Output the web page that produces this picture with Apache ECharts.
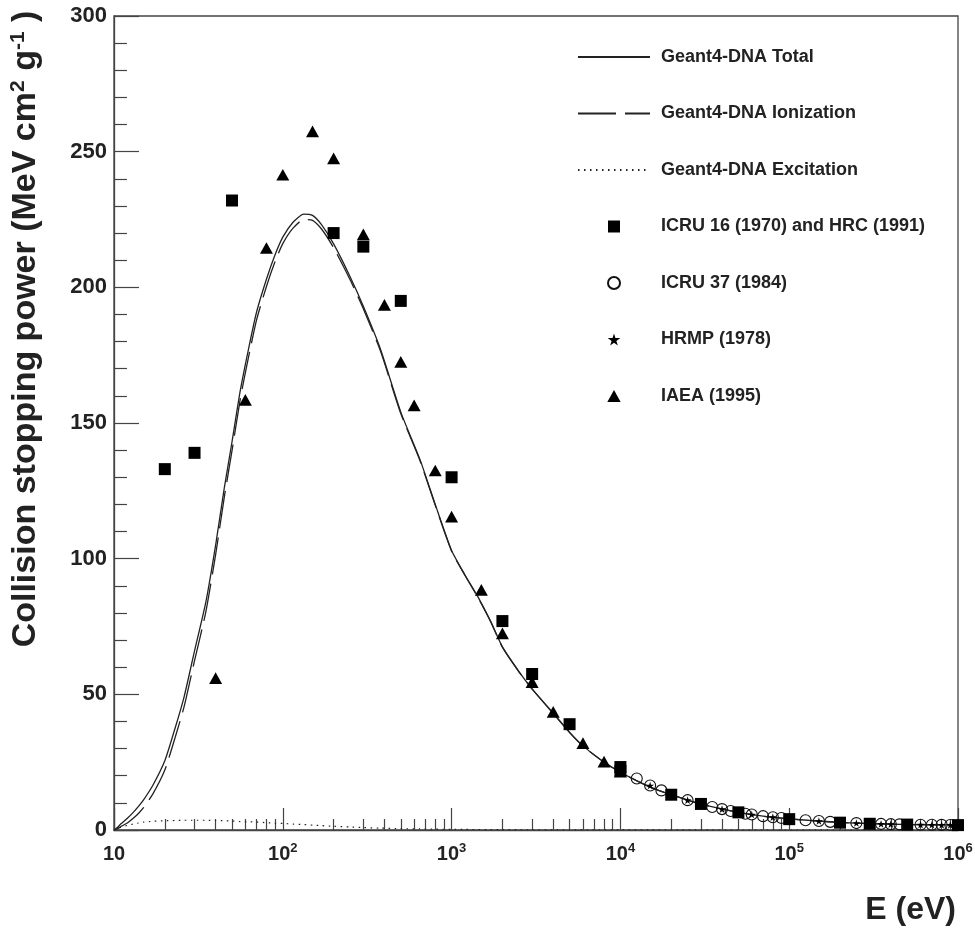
<!DOCTYPE html>
<html>
<head>
<meta charset="utf-8">
<script src="https://cdn.jsdelivr.net/npm/echarts@6/dist/echarts.min.js"></script>
<style>
  html, body { margin: 0; padding: 0; background: #fff; }
  #chart { width: 975px; height: 932px; }
</style>
</head>
<body>
<div id="chart"></div>
<script>
// ---------- DATA ----------
// Geant4-DNA model curves (energy in eV, stopping power in MeV cm2 g-1)
const curveE = [10, 10.5, 11, 12, 13, 14, 15, 17, 20, 23, 26, 30, 35, 40, 45, 50, 56, 63, 70, 80, 90, 100, 115, 133, 150, 170, 200, 250, 300, 380, 500, 650, 800, 1000, 1200, 1430, 1700, 2000, 2500, 3000, 4000, 5000, 6000, 7600, 1e4, 1.5e4, 2e4, 3e4, 5e4, 7e4, 1e5, 1.5e5, 2e5, 3e5, 5e5, 7e5, 1e6];
const totalV = [0, 1.0, 2.3, 4.3, 6.5, 8.8, 11.2, 16.5, 25.5, 37.5, 49, 66, 84, 105, 126, 143, 162, 178, 191, 203, 212, 218.5, 224, 227, 226.5, 223, 216, 204, 193, 177, 154, 136.5, 120, 103, 94, 86, 77, 67.5, 58.5, 52, 43, 36, 31, 26, 21.3, 15.8, 13, 9.5, 6.5, 5.1, 4.1, 3.3, 2.8, 2.36, 2.03, 1.92, 1.85];
const ionV = [0, 0.5, 1.3, 2.6, 4.3, 6.2, 8.3, 13.3, 22.1, 34, 45.4, 62.4, 80.4, 101.5, 122.6, 139.7, 158.9, 175, 188.1, 200.3, 209.5, 216.1, 221.8, 225, 224.7, 221.4, 214.6, 202.9, 192.1, 176.3, 153.5, 136.1, 119.7, 102.75, 93.8, 85.8, 76.9, 67.4, 58.4, 51.9, 42.95, 35.95, 30.96, 25.97, 21.27, 15.78, 12.99, 9.49, 6.49, 5.09, 4.1, 3.3, 2.8, 2.36, 2.03, 1.92, 1.85];
const excV = [0, 0.5, 1.0, 1.7, 2.2, 2.6, 2.9, 3.2, 3.4, 3.5, 3.6, 3.6, 3.6, 3.5, 3.4, 3.3, 3.1, 3.0, 2.9, 2.7, 2.5, 2.4, 2.2, 2.0, 1.8, 1.6, 1.4, 1.1, 0.9, 0.7, 0.5, 0.4, 0.3, 0.25, 0.2, 0.18, 0.15, 0.12, 0.1, 0.08, 0.06, 0.05, 0.04, 0.035, 0.03, 0.02, 0.015, 0.01, 0.008, 0.006, 0.005, 0.004, 0.003, 0.002, 0.002, 0.001, 0.001];

// ICRU 16 (1970) and HRC (1991)
const icru16E = [20, 30, 50, 200, 300, 500, 1000, 2000, 3000, 5000, 1e4, 1e4, 2e4, 3e4, 5e4, 1e5, 2e5, 3e5, 5e5, 1e6];
const icru16V = [133, 139, 232, 220, 215, 195, 130, 77, 57.5, 39, 23.2, 21.8, 13, 9.6, 6.5, 4.0, 2.7, 2.3, 2.0, 1.8];

// ICRU 37 (1984)
const icru37E = [1.25e4, 1.5e4, 1.75e4, 2.5e4, 3.5e4, 4e4, 4.5e4, 5.5e4, 6e4, 7e4, 8e4, 9e4, 1.25e5, 1.5e5, 1.75e5, 2.5e5, 3.5e5, 4e5, 4.5e5, 6e5, 7e5, 8e5, 9e5];
const icru37V = [19.0, 16.4, 14.6, 11.0, 8.5, 7.7, 7.0, 6.0, 5.7, 5.1, 4.7, 4.4, 3.6, 3.3, 3.0, 2.55, 2.24, 2.15, 2.09, 1.96, 1.92, 1.89, 1.87];

// HRMP (1978)
const hrmpE = [1.5e4, 2.5e4, 4e4, 6e4, 8e4, 1.5e5, 2.5e5, 3.5e5, 4e5, 6e5, 7e5, 8e5, 9e5];
const hrmpV = [16.4, 11.0, 7.7, 5.7, 4.7, 3.3, 2.55, 2.24, 2.15, 1.96, 1.92, 1.89, 1.87];

// IAEA (1995)
const iaeaE = [40, 60, 80, 100, 150, 200, 300, 400, 500, 600, 800, 1000, 1500, 2000, 3000, 4000, 6000, 8000, 1e4];
const iaeaV = [56, 158.5, 214.5, 241.5, 257.5, 247.5, 219.5, 193.5, 172.5, 156.5, 132.5, 115.5, 88.5, 72.5, 54.5, 43.5, 32, 25.2, 21.5];

// Axis ticks / labels
const xTickExps = ['', '2', '3', '4', '5', '6'];
const yTickStep = 50;
const legendNames = ['Geant4-DNA Total', 'Geant4-DNA Ionization', 'Geant4-DNA Excitation',
  'ICRU 16 (1970) and HRC (1991)', 'ICRU 37 (1984)', 'HRMP (1978)', 'IAEA (1995)'];
const yTitle = 'Collision stopping power (MeV cm{sup|2} g{sup|-1} )';
const xTitle = 'E (eV)';

// ---------- BUILD ----------
const pair = (xs, ys) => xs.map((x, i) => [x, ys[i]]);
const xMinorTicks = [];
for (let d = 10; d < 1e6; d *= 10) for (let m = 2; m <= 9; m++) xMinorTicks.push(m * d);

const FONT = 'Liberation Sans, Arial, Helvetica, sans-serif';
const INK = '#222';
const AX = '#444';
const starPath = 'path://M50,0 L61,35 L98,35 L68,57 L79,91 L50,70 L21,91 L32,57 L2,35 L39,35 Z';
const squarePath = 'path://M0,0 L10,0 L10,10 L0,10 Z';
const trianglePath = 'path://M5,0 L10,9 L0,9 Z';

const hiddenSym = { opacity: 0, color: 'rgba(0,0,0,0)' };
const legendData = legendNames.map((n, i) => i < 3 ? { name: n, itemStyle: hiddenSym } : { name: n });

const chart = echarts.init(document.getElementById('chart'), null, { renderer: 'canvas' });
chart.setOption({
  animation: false,
  backgroundColor: '#fff',
  textStyle: { fontFamily: FONT },
  grid: {
    left: 114, right: 17, top: 16, bottom: 102,
    show: true, borderColor: AX, borderWidth: 1.3, backgroundColor: 'transparent',
    containLabel: false, outerBoundsMode: 'none'
  },
  xAxis: [{
    type: 'log', logBase: 10, min: 10, max: 1e6, position: 'bottom',
    axisLine: { show: true, onZero: false, lineStyle: { color: AX, width: 1.3 } },
    axisTick: { show: true, inside: true, length: 22, lineStyle: { color: AX, width: 1.2 } },
    minorTick: { show: false },
    splitLine: { show: false },
    axisLabel: {
      margin: 12, color: INK,
      formatter: function (v) {
        const k = Math.round(Math.log10(v)) - 1;
        return xTickExps[k] ? '{b|10}{s|' + xTickExps[k] + '}' : '{b|10}';
      },
      rich: {
        b: { fontSize: 20, fontWeight: 'bold', fontFamily: FONT, color: INK, lineHeight: 24 },
        s: { fontSize: 13, fontWeight: 'bold', fontFamily: FONT, color: INK, verticalAlign: 'top', lineHeight: 24, padding: [0, 0, 10, 0] }
      }
    }
  }, {
    type: 'log', logBase: 10, min: 10, max: 1e6, position: 'bottom', gridIndex: 0,
    axisLine: { show: false },
    axisLabel: { show: false },
    splitLine: { show: false },
    axisTick: { show: true, inside: true, length: 11, customValues: xMinorTicks, lineStyle: { color: AX, width: 1.2 } }
  }],
  yAxis: {
    type: 'value', min: 0, max: 300, interval: yTickStep,
    axisLine: { show: true, lineStyle: { color: AX, width: 1.3 } },
    axisTick: { show: true, inside: true, length: 25, lineStyle: { color: AX, width: 1.2 } },
    minorTick: { show: true, splitNumber: 5, length: 13, lineStyle: { color: AX, width: 1.2 } },
    splitLine: { show: false },
    axisLabel: { margin: 7, fontSize: 22, fontWeight: 'bold', color: INK, fontFamily: FONT }
  },
  legend: {
    orient: 'vertical', left: 572, top: 43,
    itemWidth: 72, itemHeight: 12, itemGap: 38.5,
    selectedMode: false, symbolKeepAspect: true,
    data: legendData,
    textStyle: { fontSize: 18, fontWeight: 'bold', color: INK, fontFamily: FONT, lineHeight: 18, padding: [0, 0, 0, 6] }
  },
  graphic: [{
    type: 'text', x: 26, y: 329, rotation: Math.PI / 2,
    style: {
      text: yTitle, fill: INK, align: 'center', verticalAlign: 'middle',
      font: 'bold 34px ' + FONT,
      rich: { sup: { fontSize: 21, fontWeight: 'bold', fontFamily: FONT, fill: INK, verticalAlign: 'top', padding: [0, 0, 15, 0] } }
    }
  }, {
    type: 'text', x: 956, y: 910,
    style: { text: xTitle, fill: INK, align: 'right', verticalAlign: 'middle', font: 'bold 32px ' + FONT }
  }],
  series: [{
    name: legendNames[0], type: 'line', xAxisIndex: 0, data: pair(curveE, totalV),
    showSymbol: false, symbol: 'none', smooth: 0.2,
    lineStyle: { color: INK, width: 1.3, type: 'solid' }, itemStyle: { color: INK }, z: 2
  }, {
    name: legendNames[1], type: 'line', xAxisIndex: 0, data: pair(curveE, ionV),
    showSymbol: false, symbol: 'none', smooth: 0.2,
    lineStyle: { color: INK, width: 1.3, type: [38, 9] }, itemStyle: { color: INK }, z: 2
  }, {
    name: legendNames[2], type: 'line', xAxisIndex: 0, data: pair(curveE, excV),
    showSymbol: false, symbol: 'none', smooth: 0.2,
    lineStyle: { color: INK, width: 1.2, type: [1.5, 4.5] }, itemStyle: { color: INK }, z: 2
  }, {
    name: legendNames[3], type: 'scatter', xAxisIndex: 0, data: pair(icru16E, icru16V),
    symbol: squarePath, symbolSize: 12, symbolKeepAspect: true, itemStyle: { color: '#000', opacity: 1 }, z: 5
  }, {
    name: legendNames[4], type: 'scatter', xAxisIndex: 0, data: pair(icru37E, icru37V),
    symbol: 'circle', symbolSize: 11, symbolKeepAspect: true,
    itemStyle: { color: 'rgba(255,255,255,0)', borderColor: '#111', borderWidth: 1.1, opacity: 1 }, z: 4
  }, {
    name: legendNames[5], type: 'scatter', xAxisIndex: 0, data: pair(hrmpE, hrmpV),
    symbol: starPath, symbolSize: 8, symbolKeepAspect: true, itemStyle: { color: '#000', opacity: 1 }, z: 4
  }, {
    name: legendNames[6], type: 'scatter', xAxisIndex: 0, data: pair(iaeaE, iaeaV),
    symbol: trianglePath, symbolSize: 13, symbolKeepAspect: true, itemStyle: { color: '#000', opacity: 1 }, z: 5
  }]
});
</script>
</body>
</html>
